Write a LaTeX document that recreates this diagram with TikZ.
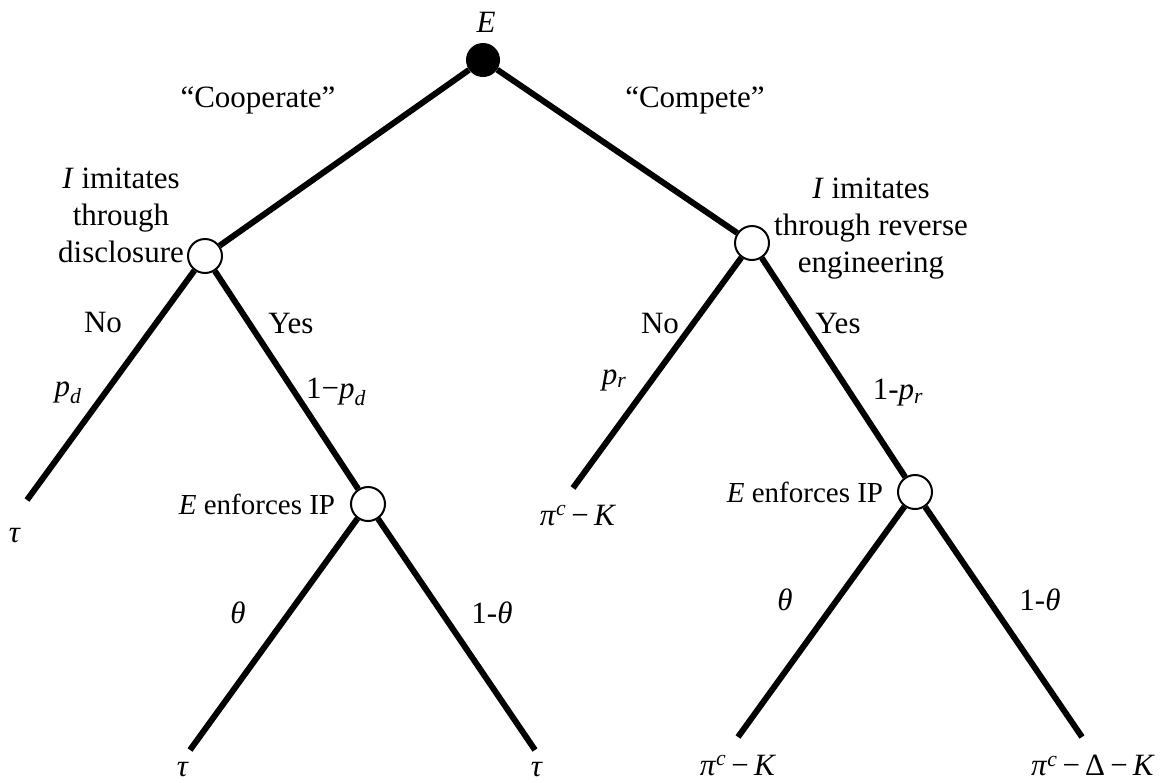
\documentclass[tikz,border=0pt]{standalone}
\usepackage{fontspec}
\setmainfont{Liberation Serif}
\tikzset{
  edgeline/.style={line width=6pt},
  chance/.style={circle,draw,fill=white,line width=2pt,minimum size=34pt,inner sep=0pt},
  decision/.style={circle,fill=black,minimum size=34pt,inner sep=0pt},
  lbl/.style={font=\fontsize{31}{37}\selectfont,inner sep=0pt,align=center},
  slbl/.style={font=\fontsize{29}{35}\selectfont,inner sep=0pt}
}
\newcommand{\vi}[1]{\textit{#1}}
\begin{document}
\begin{tikzpicture}[x=1pt,y=-1pt]
\useasboundingbox (0,0) rectangle (1173,782);
% nodes
\node[decision] (root) at (483,60) {};
\node[chance] (L) at (205,256) {};
\node[chance] (R) at (752,243) {};
\node[chance] (LE) at (368,504) {};
\node[chance] (RE) at (915,492) {};
\coordinate (LL) at (27,500);
\coordinate (LEL) at (190,750);
\coordinate (LER) at (535,750);
\coordinate (RL) at (573,488);
\coordinate (REL) at (738,737);
\coordinate (RER) at (1082,737);
% edges
\draw[edgeline] (root) -- (L);
\draw[edgeline] (root) -- (R);
\draw[edgeline] (L) -- (LL);
\draw[edgeline] (L) -- (LE);
\draw[edgeline] (R) -- (RL);
\draw[edgeline] (R) -- (RE);
\draw[edgeline] (LE) -- (LEL);
\draw[edgeline] (LE) -- (LER);
\draw[edgeline] (RE) -- (REL);
\draw[edgeline] (RE) -- (RER);
% labels
\node[lbl] (tE) at (486,22) {\vi{E}};
\node[lbl] (tcoop) at (258,100) {“Cooperate”};
\node[lbl] (tcomp) at (695,100) {“Compete”};
\node[lbl] (tL) at (121,215) {\vi{I} imitates\\through\\disclosure};
\node[lbl] (tR) at (871,229) {\vi{I} imitates\\through reverse\\engineering};
\node[lbl] (tLno) at (103,322) {No};
\node[lbl] (tLyes) at (291,323) {Yes};
\node[lbl] (tRno) at (660,323) {No};
\node[lbl] (tRyes) at (838,323) {Yes};
\node[lbl] (tpd) at (68,393) {\vi{p}\textsubscript{\vi{d}}};
\node[lbl] (t1pd) at (336,392) {1−\vi{p}\textsubscript{\vi{d}}};
\node[lbl] (tpr) at (614,380) {\vi{p}\textsubscript{\vi{r}}};
\node[lbl] (t1pr) at (898,393) {1-\vi{p}\textsubscript{\vi{r}}};
\node[slbl] (tLE) at (257,504) {\vi{E} enforces IP};
\node[slbl] (tRE) at (805,492) {\vi{E} enforces IP};
\node[lbl] (ttau1) at (15,536) {\vi{τ}};
\node[lbl] (tpiK1) at (578,515) {\vi{π}\textsuperscript{\vi{c}}\,−\,\vi{K}};
\node[lbl] (tth1) at (238,613) {\vi{θ}};
\node[lbl] (t1th1) at (492,613) {1-\vi{θ}};
\node[lbl] (tth2) at (785,600) {\vi{θ}};
\node[lbl] (t1th2) at (1040,600) {1-\vi{θ}};
\node[lbl] (ttau2) at (183,770) {\vi{τ}};
\node[lbl] (ttau3) at (537,770) {\vi{τ}};
\node[lbl] (tpiK2) at (738,765) {\vi{π}\textsuperscript{\vi{c}}\,−\,\vi{K}};
\node[lbl] (tpiDK) at (1093,765) {\vi{π}\textsuperscript{\vi{c}}\,−\,Δ\,−\,\vi{K}};
\end{tikzpicture}
\end{document}
